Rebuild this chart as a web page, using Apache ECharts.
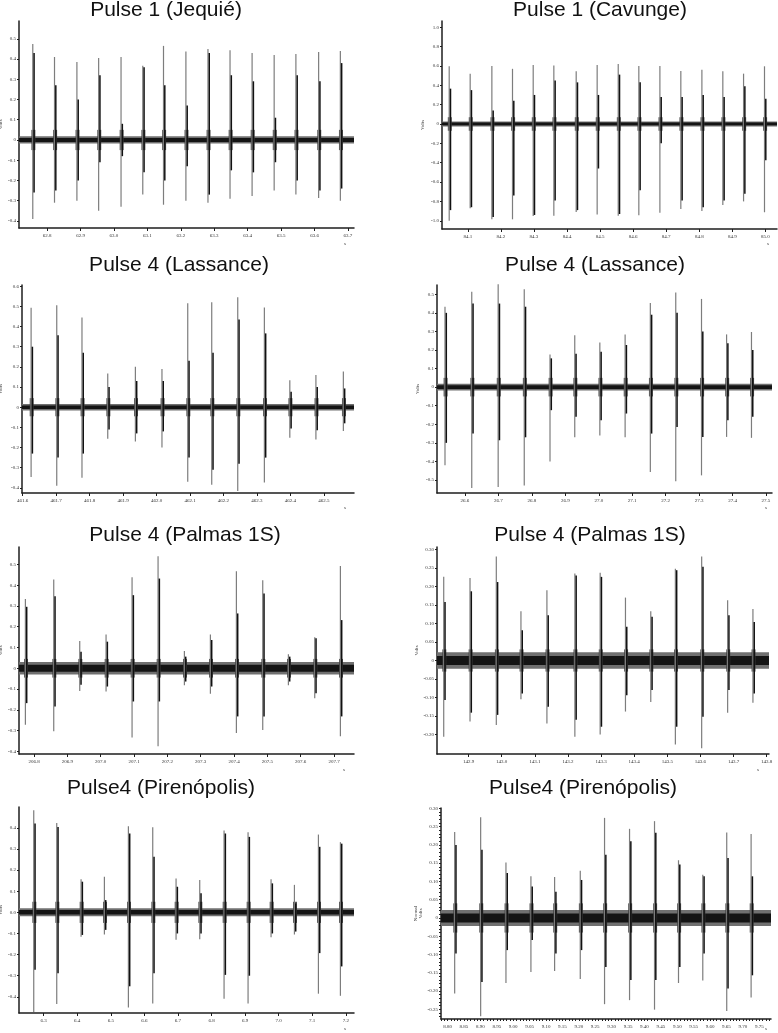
<!DOCTYPE html>
<html>
<head>
<meta charset="utf-8">
<script src="https://cdn.jsdelivr.net/npm/echarts@6/dist/echarts.min.js"></script>
<style>
  html, body { margin: 0; padding: 0; background: #fff; }
  #chart { width: 778px; height: 1033px; }
</style>
</head>
<body>
<div id="chart"></div>
<script>
// one row per pulse: [time (s), outer max, inner max, inner min, outer min] in volts
const jequiePulses = [
  [62.759, 0.474, 0.43, -0.26, -0.39],
  [62.824, 0.41, 0.27, -0.25, -0.31],
  [62.891, 0.385, 0.2, -0.2, -0.30],
  [62.956, 0.405, 0.32, -0.11, -0.35],
  [63.023, 0.41, 0.08, -0.08, -0.33],
  [63.088, 0.367, 0.36, -0.16, -0.27],
  [63.150, 0.465, 0.27, -0.2, -0.32],
  [63.217, 0.437, 0.17, -0.13, -0.30],
  [63.283, 0.45, 0.43, -0.27, -0.31],
  [63.349, 0.443, 0.32, -0.15, -0.29],
  [63.415, 0.43, 0.29, -0.16, -0.277],
  [63.481, 0.42, 0.11, -0.11, -0.25],
  [63.546, 0.425, 0.32, -0.2, -0.27],
  [63.614, 0.435, 0.29, -0.25, -0.287],
  [63.679, 0.44, 0.38, -0.24, -0.30]
]
const cavungePulses = [
  [84.0456, 0.596, 0.365, -0.89, -1.0],
  [84.109, 0.52, 0.35, -0.86, -0.87],
  [84.1746, 0.60, 0.14, -0.96, -0.985],
  [84.237, 0.57, 0.24, -0.74, -0.985],
  [84.2996, 0.61, 0.30, -0.94, -0.95],
  [84.362, 0.605, 0.45, -0.79, -0.947],
  [84.4296, 0.545, 0.43, -0.89, -0.91],
  [84.493, 0.61, 0.30, -0.46, -0.936],
  [84.5567, 0.62, 0.51, -0.93, -0.947],
  [84.619, 0.60, 0.43, -0.685, -0.943],
  [84.6827, 0.60, 0.28, -0.20, -0.916],
  [84.746, 0.547, 0.28, -0.79, -0.878],
  [84.8097, 0.56, 0.30, -0.86, -0.90],
  [84.873, 0.545, 0.28, -0.79, -0.836],
  [84.9357, 0.52, 0.39, -0.72, -0.80],
  [84.999, 0.596, 0.26, -0.375, -0.912]
]
const lassanceAPulses = [
  [461.627, 0.493, 0.30, -0.23, -0.346],
  [461.7036, 0.505, 0.357, -0.25, -0.39],
  [461.779, 0.445, 0.27, -0.23, -0.35],
  [461.856, 0.167, 0.10, -0.11, -0.157],
  [461.9386, 0.20, 0.13, -0.13, -0.17],
  [462.018, 0.19, 0.13, -0.12, -0.20],
  [462.095, 0.515, 0.23, -0.25, -0.37],
  [462.1667, 0.52, 0.27, -0.31, -0.385],
  [462.2444, 0.545, 0.435, -0.28, -0.415],
  [462.324, 0.495, 0.366, -0.25, -0.374],
  [462.40, 0.134, 0.076, -0.106, -0.152],
  [462.478, 0.16, 0.10, -0.114, -0.16],
  [462.560, 0.177, 0.093, -0.08, -0.118]
]
const lassanceBPulses = [
  [26.542, 0.433, 0.40, -0.30, -0.42],
  [26.622, 0.513, 0.45, -0.25, -0.543],
  [26.701, 0.554, 0.45, -0.286, -0.538],
  [26.779, 0.527, 0.433, -0.27, -0.53],
  [26.856, 0.176, 0.155, -0.124, -0.40],
  [26.930, 0.28, 0.18, -0.16, -0.27],
  [27.005, 0.24, 0.19, -0.178, -0.26],
  [27.0806, 0.284, 0.227, -0.142, -0.27],
  [27.156, 0.453, 0.39, -0.25, -0.457],
  [27.232, 0.51, 0.40, -0.214, -0.507],
  [27.309, 0.475, 0.30, -0.268, -0.475],
  [27.384, 0.284, 0.236, -0.178, -0.268],
  [27.4584, 0.297, 0.20, -0.16, -0.273]
]
const palmasAPulses = [
  [206.776, 0.333, 0.296, -0.168, -0.272],
  [206.861, 0.427, 0.347, -0.184, -0.304],
  [206.939, 0.131, 0.08, -0.08, -0.11],
  [207.018, 0.163, 0.128, -0.088, -0.112],
  [207.096, 0.438, 0.352, -0.16, -0.333],
  [207.174, 0.54, 0.432, -0.16, -0.376],
  [207.253, 0.083, 0.056, -0.064, -0.082],
  [207.331, 0.163, 0.136, -0.088, -0.123],
  [207.409, 0.467, 0.264, -0.232, -0.312],
  [207.488, 0.424, 0.36, -0.232, -0.298],
  [207.565, 0.067, 0.056, -0.064, -0.082],
  [207.644, 0.149, 0.144, -0.12, -0.144],
  [207.721, 0.493, 0.232, -0.232, -0.328]
]
const palmasBPulses = [
  [142.8266, 0.226, 0.158, -0.107, -0.206],
  [142.906, 0.223, 0.187, -0.141, -0.165],
  [142.9854, 0.281, 0.212, -0.147, -0.174],
  [143.0598, 0.133, 0.082, -0.089, -0.105],
  [143.1382, 0.19, 0.122, -0.125, -0.17],
  [143.2226, 0.235, 0.23, -0.16, -0.206],
  [143.299, 0.237, 0.226, -0.179, -0.20],
  [143.3754, 0.17, 0.091, -0.094, -0.138],
  [143.4518, 0.133, 0.118, -0.08, -0.112],
  [143.5261, 0.248, 0.244, -0.179, -0.227],
  [143.6055, 0.281, 0.253, -0.152, -0.237],
  [143.6839, 0.163, 0.122, -0.08, -0.141],
  [143.7603, 0.139, 0.104, -0.089, -0.114]
]
const pirenopolisAPulses = [
  [6.2722, 0.483, 0.42, -0.272, -0.472],
  [6.3407, 0.423, 0.404, -0.288, -0.434],
  [6.4132, 0.157, 0.145, -0.107, -0.116],
  [6.4827, 0.168, 0.058, -0.083, -0.105],
  [6.5542, 0.407, 0.373, -0.35, -0.45],
  [6.6267, 0.403, 0.263, -0.288, -0.432],
  [6.6962, 0.16, 0.121, -0.10, -0.13],
  [6.7667, 0.153, 0.09, -0.10, -0.127],
  [6.8392, 0.387, 0.373, -0.296, -0.409],
  [6.9107, 0.379, 0.357, -0.30, -0.432],
  [6.9792, 0.156, 0.137, -0.10, -0.118],
  [7.0488, 0.13, 0.042, -0.091, -0.105],
  [7.1203, 0.368, 0.31, -0.193, -0.385],
  [7.1858, 0.332, 0.325, -0.256, -0.395]
]
const pirenopolisBPulses = [
  [8.8234, 0.235, 0.20, -0.097, -0.207],
  [8.9026, 0.276, 0.187, -0.175, -0.269],
  [8.9797, 0.152, 0.123, -0.088, -0.178],
  [9.0558, 0.114, 0.086, -0.06, -0.148],
  [9.1280, 0.112, 0.072, -0.097, -0.145],
  [9.2062, 0.129, 0.104, -0.088, -0.167],
  [9.2802, 0.274, 0.173, -0.134, -0.236],
  [9.3564, 0.244, 0.21, -0.17, -0.225],
  [9.4325, 0.265, 0.233, -0.17, -0.251],
  [9.5056, 0.158, 0.146, -0.134, -0.178],
  [9.5796, 0.118, 0.114, -0.097, -0.171],
  [9.6526, 0.234, 0.164, -0.193, -0.255],
  [9.7269, 0.23, 0.114, -0.157, -0.218]
]

// tick labels
const jequieXTicks = [62.8, 62.9, 63.0, 63.1, 63.2, 63.3, 63.4, 63.5, 63.6, 63.7]
const cavungeXTicks = [84.1, 84.2, 84.3, 84.4, 84.5, 84.6, 84.7, 84.8, 84.9, 85.0]
const lassanceAXTicks = [461.6, 461.7, 461.8, 461.9, 462.0, 462.1, 462.2, 462.3, 462.4, 462.5]
const lassanceBXTicks = [26.6, 26.7, 26.8, 26.9, 27.0, 27.1, 27.2, 27.3, 27.4, 27.5]
const palmasAXTicks = [206.8, 206.9, 207.0, 207.1, 207.2, 207.3, 207.4, 207.5, 207.6, 207.7]
const palmasBXTicks = [142.9, 143.0, 143.1, 143.2, 143.3, 143.4, 143.5, 143.6, 143.7, 143.8]
const pirenopolisAXTicks = [6.3, 6.4, 6.5, 6.6, 6.7, 6.8, 6.9, 7.0, 7.1, 7.2]
const pirenopolisBXTicks = [8.80, 8.85, 8.90, 8.95, 9.00, 9.05, 9.10, 9.15, 9.20, 9.25,
  9.30, 9.35, 9.40, 9.45, 9.50, 9.55, 9.60, 9.65, 9.70, 9.75]

const jequieYTicks = [-0.4, -0.3, -0.2, -0.1, 0, 0.1, 0.2, 0.3, 0.4, 0.5]
const cavungeYTicks = [-1.0, -0.8, -0.6, -0.4, -0.2, 0, 0.2, 0.4, 0.6, 0.8, 1.0]
const lassanceAYTicks = [-0.4, -0.3, -0.2, -0.1, 0, 0.1, 0.2, 0.3, 0.4, 0.5, 0.6]
const lassanceBYTicks = [-0.5, -0.4, -0.3, -0.2, -0.1, 0, 0.1, 0.2, 0.3, 0.4, 0.5]
const palmasAYTicks = [-0.4, -0.3, -0.2, -0.1, 0, 0.1, 0.2, 0.3, 0.4, 0.5]
const palmasBYTicks = [-0.20, -0.15, -0.10, -0.05, 0, 0.05, 0.10, 0.15, 0.20, 0.25, 0.30]
const pirenopolisAYTicks = [-0.4, -0.3, -0.2, -0.1, 0, 0.1, 0.2, 0.3, 0.4]
const pirenopolisBYTicks = [-0.25, -0.20, -0.15, -0.10, -0.05, 0, 0.05, 0.10, 0.15, 0.20, 0.25, 0.30]

// the last panel has a dense row of small ticks on both axes
const fineY = []
for (let k = -27; k <= 30; k++) fineY.push(k / 100)
const fineX = []
for (let k = 878; k <= 978; k++) fineX.push(k / 100)

const panels = [
  { title: 'Pulse 1 (Jequié)', pulses: jequiePulses, xTicks: jequieXTicks, yTicks: jequieYTicks,
    x: [62.716, 63.718], y: [-0.435, 0.588], box: [19, 21, 335, 207], noise: 0.018, burst: 0.05,
    xd: 1, yd: 1, zero: '0', tx: 166, ty: 21, gap: 16, s: [345, 244] },
  { title: 'Pulse 1 (Cavunge)', pulses: cavungePulses, xTicks: cavungeXTicks, yTicks: cavungeYTicks,
    x: [84.022, 85.035], y: [-1.085, 1.064], box: [442, 21, 335, 208], noise: 0.026, burst: 0.07,
    xd: 1, yd: 1, zero: '0', tx: 600, ty: 21, gap: 17, s: [768, 244] },
  { title: 'Pulse 4 (Lassance)', pulses: lassanceAPulses, xTicks: lassanceAXTicks, yTicks: lassanceAYTicks,
    x: [461.598, 462.59], y: [-0.4255, 0.606], box: [22, 285, 332, 208], noise: 0.016, burst: 0.045,
    xd: 1, yd: 1, zero: '0', tx: 179, ty: 276, gap: 19, s: [345, 508] },
  { title: 'Pulse 4 (Lassance)', pulses: lassanceBPulses, xTicks: lassanceBXTicks, yTicks: lassanceBYTicks,
    x: [26.5163, 27.518], y: [-0.57, 0.55], box: [437, 285, 335, 208], noise: 0.018, burst: 0.05,
    xd: 1, yd: 1, zero: '0', tx: 595, ty: 276, gap: 17, s: [766, 508] },
  { title: 'Pulse 4 (Palmas 1S)', pulses: palmasAPulses, xTicks: palmasAXTicks, yTicks: palmasAYTicks,
    x: [206.755, 207.76], y: [-0.413, 0.584], box: [19, 547, 335, 207], noise: 0.03, burst: 0.045,
    xd: 1, yd: 1, zero: '0', tx: 185, ty: 546, gap: 16, s: [344, 770] },
  { title: 'Pulse 4 (Palmas 1S)', pulses: palmasBPulses, xTicks: palmasBXTicks, yTicks: palmasBYTicks,
    x: [142.8045, 143.807], y: [-0.2527, 0.3067], box: [437, 547, 332, 207], noise: 0.022, burst: 0.03,
    xd: 1, yd: 2, zero: '0', tx: 590, ty: 546, gap: 17, s: [758, 770] },
  { title: 'Pulse4 (Pirenópolis)', pulses: pirenopolisAPulses, xTicks: pirenopolisAXTicks, yTicks: pirenopolisAYTicks,
    x: [6.2265, 7.2245], y: [-0.4764, 0.4984], box: [19, 807, 335, 206], noise: 0.019, burst: 0.05,
    xd: 1, yd: 1, zero: '0.0', tx: 161, ty: 799, gap: 16, s: [345, 1029] },
  { title: 'Pulse4 (Pirenópolis)', pulses: pirenopolisBPulses, xTicks: pirenopolisBXTicks, yTicks: pirenopolisBYTicks,
    x: [8.7799, 9.7857], y: [-0.2766, 0.301], box: [441, 808, 330, 211], noise: 0.022, burst: 0.04,
    xd: 2, yd: 2, zero: '0', tx: 583, ty: 799, gap: 16, s: [766, 1029], fine: true, yName: 'Normal\nVolts' }
]

const labelFont = { fontSize: 5, color: '#333', fontFamily: 'Liberation Serif' }
const axisColor = '#1e1e1e'

function noiseRenderer(p) {
  return function (params, api) {
    const a = api.coord([p.x[0], p.noise])
    const b = api.coord([p.x[1], -p.noise])
    const c = api.coord([p.x[0], p.noise * 0.55])
    const d = api.coord([p.x[1], -p.noise * 0.55])
    return {
      type: 'group',
      children: [
        { type: 'rect', shape: { x: a[0], y: a[1], width: b[0] - a[0], height: b[1] - a[1] }, style: { fill: '#707070' } },
        { type: 'rect', shape: { x: c[0], y: c[1], width: d[0] - c[0], height: d[1] - c[1] }, style: { fill: '#141414' } }
      ]
    }
  }
}

function pulseRenderer(p) {
  return function (params, api) {
    const t = api.value(0)
    const x = api.coord([t, 0])[0]
    const y = v => api.coord([t, v])[1]
    return {
      type: 'group',
      children: [
        { type: 'rect', shape: { x: x - 2, y: y(p.burst), width: 4, height: y(-p.burst) - y(p.burst) }, style: { fill: '#3a3a3a', opacity: 0.85 } },
        { type: 'line', shape: { x1: x - 0.6, y1: y(api.value(1)), x2: x - 0.6, y2: y(api.value(4)) }, style: { stroke: '#7d7d7d', lineWidth: 1.2 } },
        { type: 'line', shape: { x1: x + 0.7, y1: y(api.value(2)), x2: x + 0.7, y2: y(api.value(3)) }, style: { stroke: '#111', lineWidth: 1.5 } }
      ]
    }
  }
}

const option = {
  animation: false,
  backgroundColor: '#fff',
  grid: panels.map(p => ({
    left: p.box[0], top: p.box[1], width: p.box[2], height: p.box[3],
    containLabel: false, outerBoundsMode: 'none'
  })),
  xAxis: panels.map((p, i) => ({
    gridIndex: i,
    type: 'value',
    min: p.x[0],
    max: p.x[1],
    splitLine: { show: false },
    axisLine: { onZero: false, lineStyle: { color: axisColor, width: 1.5 } },
    axisTick: { customValues: p.fine ? fineX : p.xTicks, length: p.fine ? 2 : 3, lineStyle: { color: axisColor } },
    axisLabel: { customValues: p.xTicks, margin: 5, formatter: v => v.toFixed(p.xd), ...labelFont }
  })),
  yAxis: panels.map((p, i) => ({
    gridIndex: i,
    type: 'value',
    min: p.y[0],
    max: p.y[1],
    splitLine: { show: false },
    axisLine: { lineStyle: { color: axisColor, width: 1.5 } },
    axisTick: { customValues: p.fine ? fineY : p.yTicks, length: 2, lineStyle: { color: axisColor } },
    axisLabel: {
      customValues: p.yTicks, margin: 3,
      formatter: v => (Math.abs(v) < 1e-9 ? p.zero : v.toFixed(p.yd)),
      ...labelFont
    },
    name: p.yName || 'Volts',
    nameLocation: 'middle',
    nameGap: p.gap,
    nameRotate: 90,
    nameTextStyle: { ...labelFont, lineHeight: 5 }
  })),
  series: panels.flatMap((p, i) => [
    {
      type: 'custom', xAxisIndex: i, yAxisIndex: i, silent: true,
      data: [[p.x[0], 0]],
      renderItem: noiseRenderer(p)
    },
    {
      type: 'custom', xAxisIndex: i, yAxisIndex: i, silent: true,
      data: p.pulses,
      encode: { x: 0, y: [1, 4] },
      renderItem: pulseRenderer(p)
    }
  ]),
  graphic: panels.flatMap(p => [
    {
      type: 'text', x: p.tx, y: p.ty, silent: true,
      style: { text: p.title, fontSize: 21, fontFamily: 'Liberation Sans', fill: '#111', align: 'center', verticalAlign: 'bottom' }
    },
    {
      type: 'text', x: p.s[0], y: p.s[1], silent: true,
      style: { text: 's', ...labelFont, fill: '#333', align: 'center', verticalAlign: 'middle' }
    }
  ])
}

const chart = echarts.init(document.getElementById('chart'))
chart.setOption(option)
window.addEventListener('resize', () => chart.resize())
</script>
</body>
</html>
